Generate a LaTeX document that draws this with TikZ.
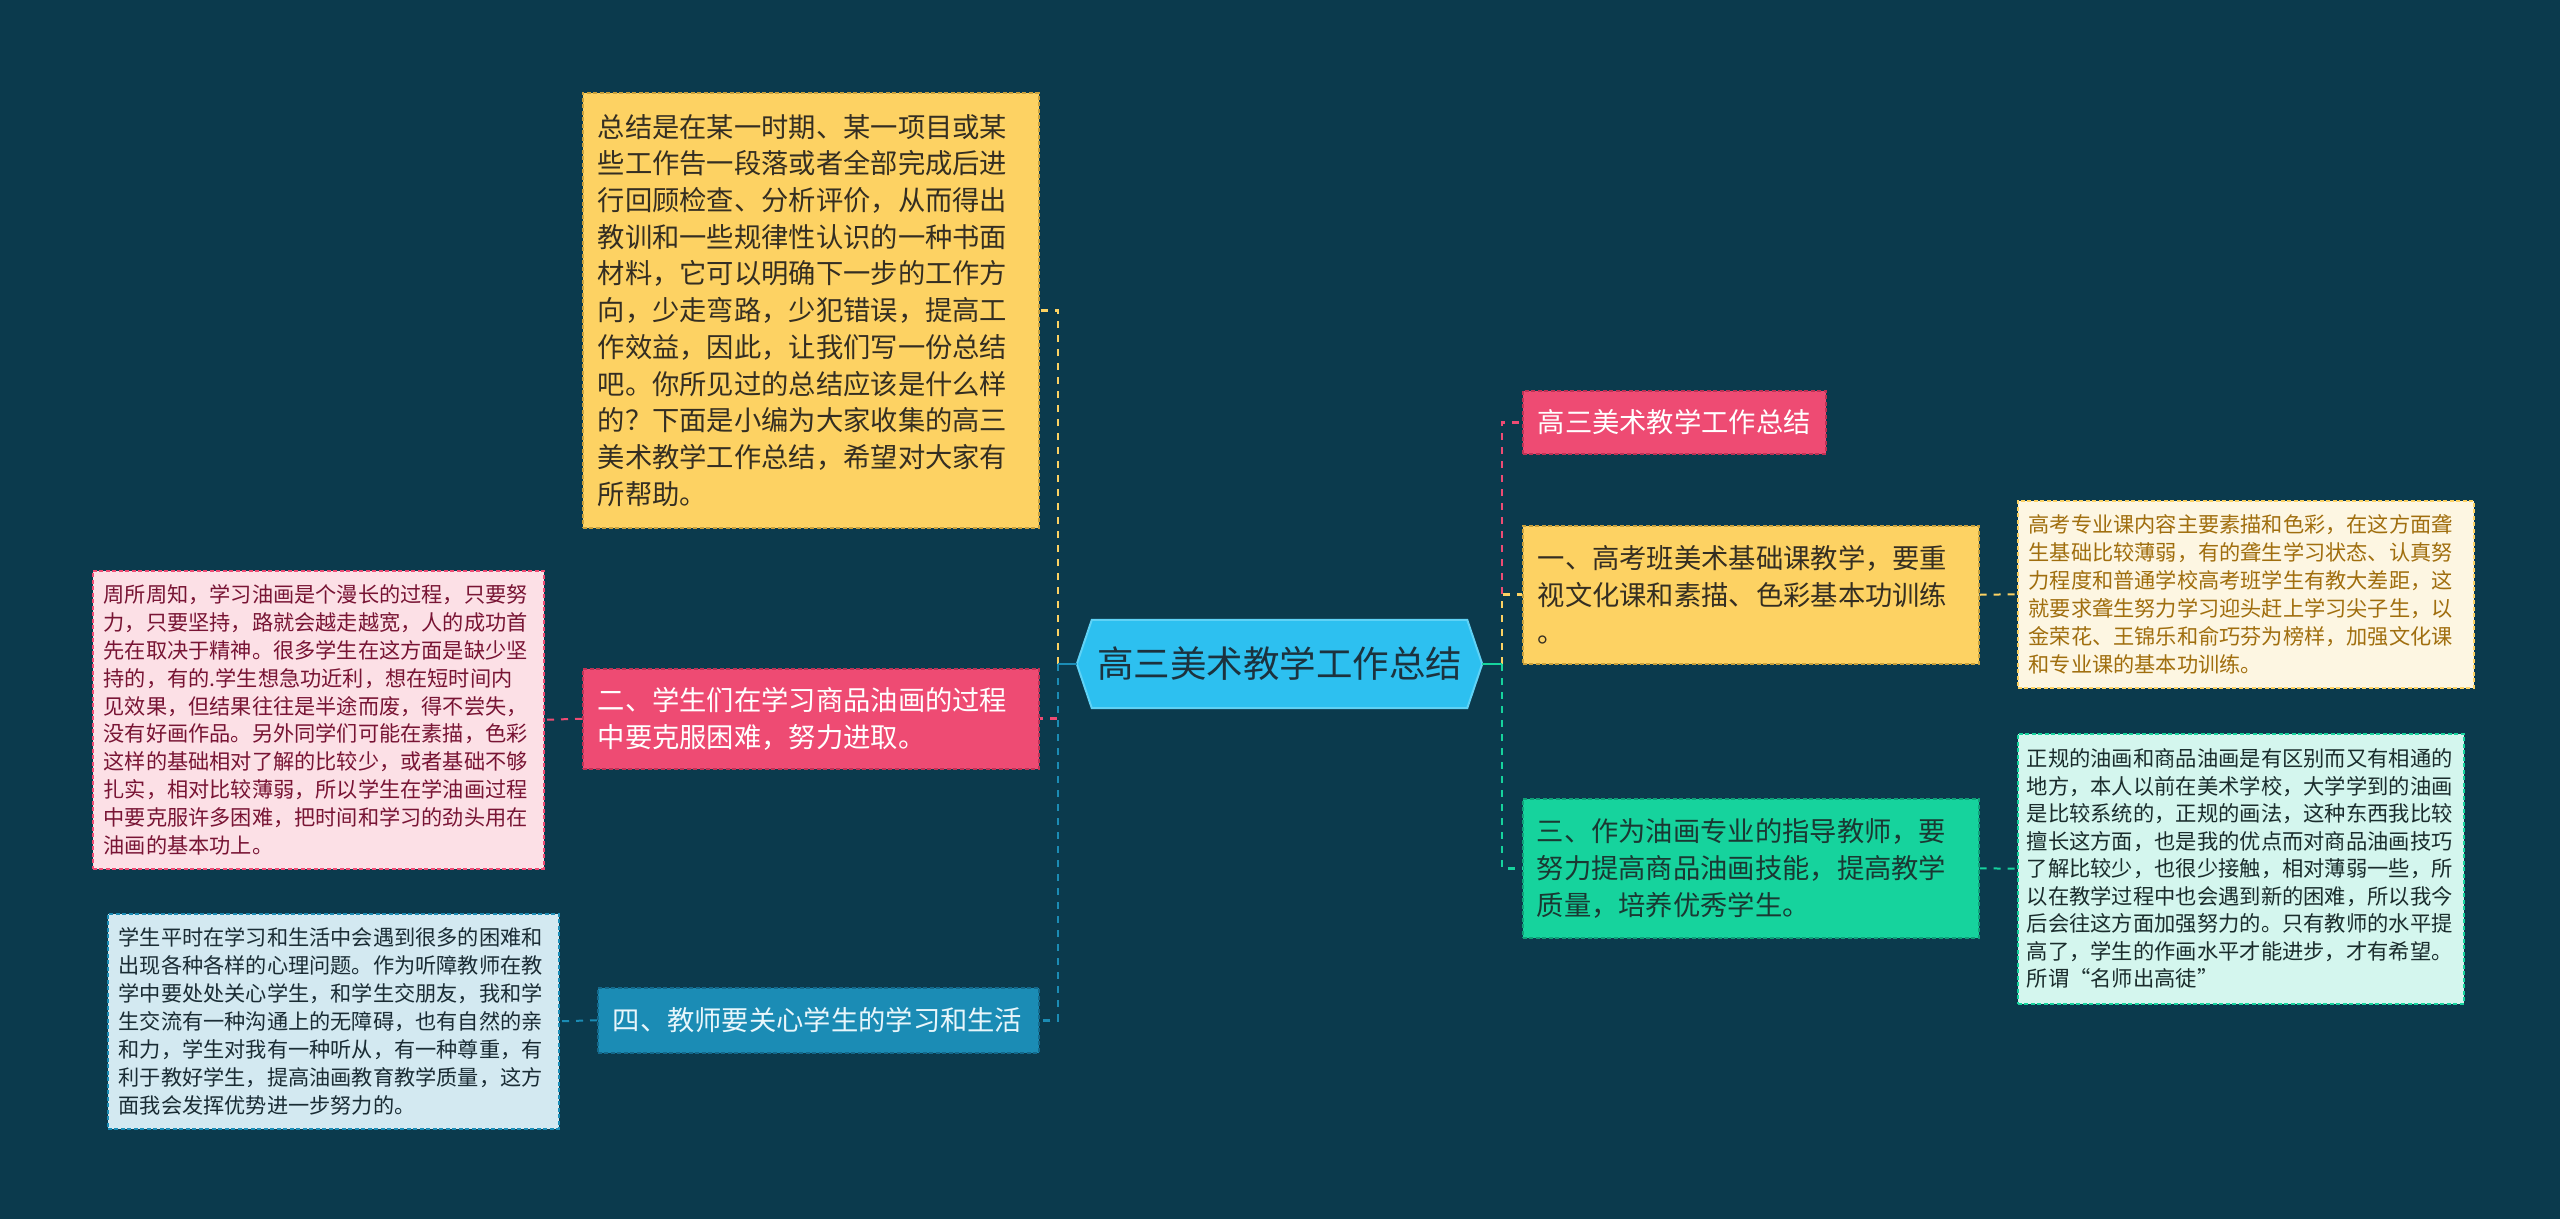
\documentclass[tikz,border=0pt]{standalone}
\usepackage{fontspec}
\setmainfont{Noto Sans CJK SC}
\usetikzlibrary{backgrounds}
\definecolor{bgc}{RGB}{11,58,77}
\definecolor{cyel}{RGB}{253,210,99}
\definecolor{cyelD}{RGB}{200,160,60}
\definecolor{cpink}{RGB}{238,75,115}
\definecolor{cpinkD}{RGB}{190,50,85}
\definecolor{cblue}{RGB}{27,140,181}
\definecolor{cblueD}{RGB}{20,105,140}
\definecolor{cgreen}{RGB}{22,211,157}
\definecolor{cgreenD}{RGB}{15,160,120}
\definecolor{ccen}{RGB}{45,192,240}
\definecolor{ccenB}{RGB}{95,210,246}
\definecolor{ccenT}{RGB}{28,50,62}
\definecolor{pdfill}{RGB}{252,224,230}
\definecolor{pdtext}{RGB}{120,20,52}
\definecolor{bdfill}{RGB}{211,233,241}
\definecolor{bdtext}{RGB}{26,44,52}
\definecolor{ydfill}{RGB}{253,246,226}
\definecolor{ydtext}{RGB}{160,110,14}
\definecolor{gdfill}{RGB}{212,246,238}
\definecolor{gdtext}{RGB}{26,44,44}
\definecolor{ytext}{RGB}{52,46,34}
\definecolor{gtext}{RGB}{26,56,50}
\begin{document}
\begin{tikzpicture}[x=1pt,y=-1pt,
  box/.style={rectangle, anchor=north west, align=left, inner ysep=0pt,
     line width=1.5pt, dash pattern=on 4pt off 2.5pt},
  mainbox/.style={box, inner xsep=15pt, font=\fontsize{27.3}{36.7}\selectfont},
  detbox/.style={box, inner xsep=11pt, font=\fontsize{21.2}{27.8}\selectfont},
  conn/.style={line width=2.6pt, dash pattern=on 7pt off 7pt},
  stub/.style={line width=2.6pt}]
\begin{pgfonlayer}{background}
\fill[bgc] (0,0) rectangle (2560,1219);
\end{pgfonlayer}
\useasboundingbox (0,0) rectangle (2560,1219);

% central node
\node[minimum width=405pt, minimum height=88pt, inner sep=0pt, text=ccenT,
  font=\fontsize{36.5}{40}\selectfont] (c) at (1279.5,664) {高三美术教学工作总结};
\begin{pgfonlayer}{background}
\draw[fill=ccen, draw=ccenB, line width=2pt]
  (c.west) -- ([xshift=15pt]c.north west) -- ([xshift=-15pt]c.north east)
  -- (c.east) -- ([xshift=-15pt]c.south east) -- ([xshift=15pt]c.south west) -- cycle;
\end{pgfonlayer}

% left branches
\node[mainbox, fill=cyel, draw=cyelD, text=ytext, minimum width=456pt, minimum height=435pt, text width=426pt]
  (ytop) at (582,92) {总结是在某一时期、某一项目或某\\
些工作告一段落或者全部完成后进\\
行回顾检查、分析评价，从而得出\\
教训和一些规律性认识的一种书面\\
材料，它可以明确下一步的工作方\\
向，少走弯路，少犯错误，提高工\\
作效益，因此，让我们写一份总结\\
吧。你所见过的总结应该是什么样\\
的？下面是小编为大家收集的高三\\
美术教学工作总结，希望对大家有\\
所帮助。};

\node[mainbox, fill=cpink, draw=cpinkD, text=white, minimum width=456pt, minimum height=100pt, text width=426pt]
  (p2) at (582,668) {二、学生们在学习商品油画的过程\\中要克服困难，努力进取。};

\node[mainbox, fill=cblue, draw=cblueD, text={rgb,255:red,232;green,246;blue,251}, minimum width=441pt, minimum height=65pt, text width=411pt]
  (b4) at (597,987) {四、教师要关心学生的学习和生活};

\node[detbox, fill=pdfill, draw=cpink, text=pdtext, minimum width=451pt, minimum height=298pt, text width=429pt]
  (pd) at (92,570) {周所周知，学习油画是个漫长的过程，只要努\\
力，只要坚持，路就会越走越宽，人的成功首\\
先在取决于精神。很多学生在这方面是缺少坚\\
持的，有的.学生想急功近利，想在短时间内\\
见效果，但结果往往是半途而废，得不尝失，\\
没有好画作品。另外同学们可能在素描，色彩\\
这样的基础相对了解的比较少，或者基础不够\\
扎实，相对比较薄弱，所以学生在学油画过程\\
中要克服许多困难，把时间和学习的劲头用在\\
油画的基本功上。};

\node[detbox, fill=bdfill, draw=cblue, text=bdtext, minimum width=451pt, minimum height=215pt, text width=429pt, font=\fontsize{21.2}{28}\selectfont]
  (bd) at (107,913) {学生平时在学习和生活中会遇到很多的困难和\\
出现各种各样的心理问题。作为听障教师在教\\
学中要处处关心学生，和学生交朋友，我和学\\
生交流有一种沟通上的无障碍，也有自然的亲\\
和力，学生对我有一种听从，有一种尊重，有\\
利于教好学生，提高油画教育教学质量，这方\\
面我会发挥优势进一步努力的。};

% right branches
\node[mainbox, fill=cpink, draw=cpinkD, text=white, minimum width=303pt, minimum height=63pt, text width=273pt]
  (pt) at (1522,390) {高三美术教学工作总结};

\node[mainbox, fill=cyel, draw=cyelD, text=ytext, minimum width=456pt, minimum height=138pt, text width=426pt]
  (y1r) at (1522,525) {一、高考班美术基础课教学，要重\\视文化课和素描、色彩基本功训练\\。};

\node[mainbox, fill=cgreen, draw=cgreenD, text=gtext, minimum width=456pt, minimum height=139pt, text width=428pt, inner xsep=14pt]
  (g3) at (1522,798) {三、作为油画专业的指导教师，要\\努力提高商品油画技能，提高教学\\质量，培养优秀学生。};

\node[detbox, fill=ydfill, draw=cyel, text=ydtext, minimum width=456pt, minimum height=187pt, text width=434pt, font=\fontsize{21.2}{28}\selectfont]
  (yd) at (2017,500) {高考专业课内容主要素描和色彩，在这方面聋\\
生基础比较薄弱，有的聋生学习状态、认真努\\
力程度和普通学校高考班学生有教大差距，这\\
就要求聋生努力学习迎头赶上学习尖子生，以\\
金荣花、王锦乐和俞巧芬为榜样，加强文化课\\
和专业课的基本功训练。};

\node[detbox, fill=gdfill, draw=cgreen, text=gdtext, minimum width=446pt, minimum height=270pt, text width=428pt, inner xsep=9pt, font=\fontsize{21.3}{27.5}\selectfont]
  (gd) at (2017,733) {正规的油画和商品油画是有区别而又有相通的\\
地方，本人以前在美术学校，大学学到的油画\\
是比较系统的，正规的画法，这种东西我比较\\
擅长这方面，也是我的优点而对商品油画技巧\\
了解比较少，也很少接触，相对薄弱一些，所\\
以在教学过程中也会遇到新的困难，所以我今\\
后会往这方面加强努力的。只有教师的水平提\\
高了，学生的作画水平才能进步，才有希望。\\
所谓“名师出高徒”};

% connectors
\coordinate (L) at (1058,664);
\coordinate (R) at (1502,664);
\draw[conn, cyel] (L) |- (ytop.east);
\draw[conn, cpink] (L) |- (p2.east);
\draw[conn, cblue] (L) |- (b4.east);
\draw[stub, cblue] (c.west) -- (L);
\draw[conn, cpink] (R) |- (pt.west);
\draw[conn, cyel] (R) |- (y1r.west);
\draw[conn, cgreen] (R) |- (g3.west);
\draw[stub, cgreen] (c.east) -- (R);
\draw[conn, cpink, line width=2pt] (p2.west) -- (pd.east);
\draw[conn, cblue, line width=2pt] (b4.west) -- (bd.east);
\draw[conn, cyel, line width=2pt] (y1r.east) -- (yd.west);
\draw[conn, cgreen, line width=2pt] (g3.east) -- (gd.west);
\end{tikzpicture}
\end{document}
